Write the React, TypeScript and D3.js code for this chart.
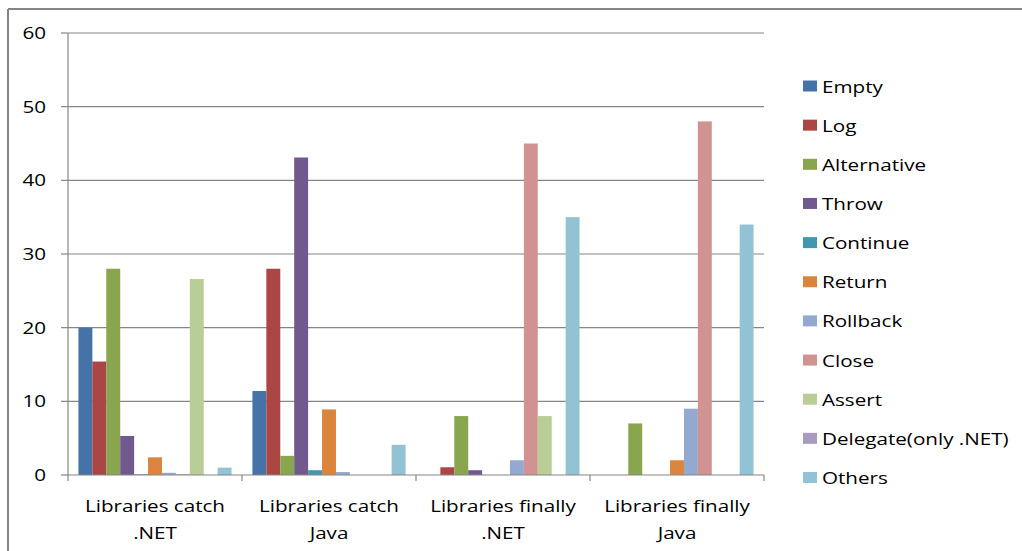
import React from "react";
import * as d3 from "d3";

const categories: string[][] = [
  ["Libraries catch", ".NET"],
  ["Libraries catch", "Java"],
  ["Libraries finally", ".NET"],
  ["Libraries finally", "Java"],
];

const seriesNames = [
  "Empty",
  "Log",
  "Alternative",
  "Throw",
  "Continue",
  "Return",
  "Rollback",
  "Close",
  "Assert",
  "Delegate(only .NET)",
  "Others",
];

const seriesColors = [
  "#4572A7",
  "#AA4643",
  "#89A54E",
  "#71588F",
  "#4198AF",
  "#DB843D",
  "#93A9CF",
  "#D19392",
  "#B9CD96",
  "#A99BBD",
  "#92C3D4",
];

const emptyVals = [20, 11.4, 0, 0];
const logVals = [15.4, 28, 1.05, 0];
const alternativeVals = [28, 2.6, 8, 7];
const throwVals = [5.3, 43.1, 0.65, 0];
const continueVals = [0.1, 0.65, 0, 0];
const returnVals = [2.4, 8.9, 0, 2];
const rollbackVals = [0.3, 0.4, 2, 9];
const closeVals = [0.1, 0, 45, 48];
const assertVals = [26.6, 0, 8, 0];
const delegateVals = [0, 0, 0, 0];
const othersVals = [1, 4.1, 35, 34];

const seriesValues = [
  emptyVals,
  logVals,
  alternativeVals,
  throwVals,
  continueVals,
  returnVals,
  rollbackVals,
  closeVals,
  assertVals,
  delegateVals,
  othersVals,
];

const yTicks = [0, 10, 20, 30, 40, 50, 60];

const W = 1022;
const H = 551;
const plotLeft = 68;
const plotRight = 764;
const plotTop = 33;
const plotBottom = 475;
const FONT = "'Open Sans', sans-serif";
const FS = 16.5;
const SX = 1.25;
const AXIS = "#868686";

export default function App() {
  const catKeys = categories.map((_, i) => String(i));
  const x0 = d3.scaleBand<string>().domain(catKeys).range([plotLeft, plotRight]).padding(0);
  const x1 = d3
    .scaleBand<string>()
    .domain(seriesNames)
    .range([0, x0.bandwidth()])
    .paddingInner(0)
    .paddingOuter(0.75);
  const y = d3.scaleLinear().domain([0, 60]).range([plotBottom, plotTop]);

  const boundaries = [...catKeys.map((k) => x0(k)!), plotRight];

  return (
    <svg
      width={W}
      height={H}
      style={{ position: "absolute", left: 0, top: 0, background: "#fff" }}
    >
      <rect x={0} y={0} width={W} height={H} fill="#fff" />
      {/* outer frame */}
      <line x1={8} y1={9} x2={W + 2} y2={9} stroke="#858585" strokeWidth={2} />
      <line x1={8} y1={9} x2={8} y2={H + 2} stroke="#858585" strokeWidth={2} />

      {/* gridlines */}
      {yTicks
        .filter((t) => t !== 0)
        .map((t) => (
          <line
            key={"g" + t}
            x1={plotLeft}
            x2={plotRight}
            y1={y(t)}
            y2={y(t)}
            stroke={AXIS}
            strokeWidth={1.2}
          />
        ))}

      {/* bars */}
      {seriesNames.map((s, si) =>
        seriesValues[si].map((v, ci) => {
          if (v <= 0) return null;
          const bx = x0(catKeys[ci])! + x1(s)!;
          return (
            <rect
              key={s + ci}
              x={bx}
              y={y(v)}
              width={x1.bandwidth()}
              height={plotBottom - y(v)}
              fill={seriesColors[si]}
            />
          );
        })
      )}

      {/* axes */}
      <line x1={plotLeft} x2={plotLeft} y1={plotTop} y2={plotBottom} stroke={AXIS} strokeWidth={1.2} />
      <line x1={plotLeft} x2={plotRight} y1={plotBottom} y2={plotBottom} stroke={AXIS} strokeWidth={1.2} />
      {yTicks.map((t) => (
        <line key={"yt" + t} x1={plotLeft - 7} x2={plotLeft} y1={y(t)} y2={y(t)} stroke={AXIS} strokeWidth={1.2} />
      ))}
      {boundaries.map((bx, i) => (
        <line key={"xt" + i} x1={bx} x2={bx} y1={plotBottom} y2={plotBottom + 6} stroke={AXIS} strokeWidth={1.2} />
      ))}

      {/* y tick labels */}
      {yTicks.map((t) => (
        <text
          key={"yl" + t}
          transform={`translate(46,${y(t) + 6}) scale(${SX},1)`}
          textAnchor="end"
          fontFamily={FONT}
          fontSize={FS}
          fill="#000"
        >
          {t}
        </text>
      ))}

      {/* category labels */}
      {categories.map((lines, ci) => {
        const cx = x0(catKeys[ci])! + x0.bandwidth() / 2;
        return lines.map((ln, li) => (
          <text
            key={"c" + ci + li}
            transform={`translate(${cx},${511.5 + li * 27}) scale(${SX},1)`}
            textAnchor="middle"
            fontFamily={FONT}
            fontSize={FS}
            fill="#000"
          >
            {ln}
          </text>
        ));
      })}

      {/* legend */}
      {seriesNames.map((s, si) => {
        const cy = 86 + si * 39.15;
        return (
          <g key={"lg" + s}>
            <rect x={803} y={cy - 5.5} width={14} height={11} fill={seriesColors[si]} />
            <text
              transform={`translate(822,${cy + 6.5}) scale(${SX},1)`}
              fontFamily={FONT}
              fontSize={FS}
              fill="#000"
            >
              {s}
            </text>
          </g>
        );
      })}
    </svg>
  );
}
